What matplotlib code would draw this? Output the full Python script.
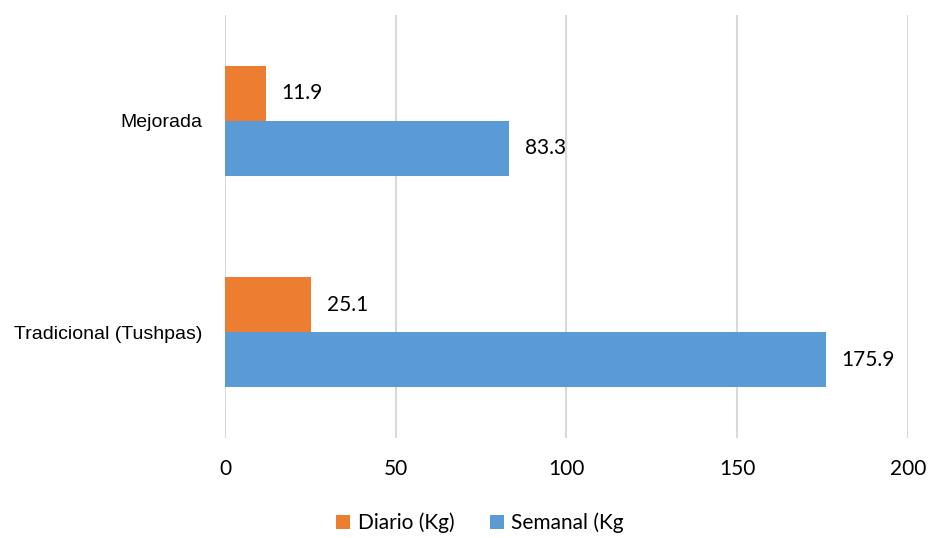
import matplotlib
matplotlib.use("Agg")
import matplotlib.pyplot as plt
import numpy as np

categories = ["Tradicional (Tushpas)", "Mejorada"]
diario = [25.1, 11.9]
semanal = [175.9, 83.3]
series_names = ["Diario (Kg)", "Semanal (Kg"]
x_ticks = [0, 50, 100, 150, 200]

orange = "#ED7D31"
blue = "#5B9BD5"
num_font = ["Lato", "DejaVu Sans"]
cat_font = ["Liberation Sans Narrow", "Liberation Sans", "DejaVu Sans"]

fig = plt.figure(figsize=(9.30, 5.38), dpi=100)
ax = fig.add_axes([0.2419, 0.186, 0.7344, 0.786])

y = np.arange(len(categories))
h = 0.26
b1 = ax.barh(y + h / 2, diario, height=h, color=orange, label=series_names[0], zorder=3)
b2 = ax.barh(y - h / 2, semanal, height=h, color=blue, label=series_names[1], zorder=3)

for bars, vals in ((b1, diario), (b2, semanal)):
    for bar, v in zip(bars, vals):
        ax.annotate(f"{v:.1f}", (v, bar.get_y() + bar.get_height() / 2),
                    xytext=(11.5, 0), textcoords="offset points",
                    va="center", ha="left", fontsize=15, family=num_font, color="#000000")

ax.set_xlim(0, 200)
ax.set_ylim(-0.5, 1.5)
ax.set_xticks(x_ticks)
ax.set_xticklabels([str(t) for t in x_ticks], family=num_font, fontsize=15)
ax.set_yticks(y)
ax.set_yticklabels(categories, family=cat_font, fontsize=14)
ax.tick_params(axis="both", length=0)
ax.tick_params(axis="x", pad=15)
ax.tick_params(axis="y", pad=16)
ax.xaxis.grid(True, color="#d9d9d9", linewidth=1.5, zorder=0)
for s in ax.spines.values():
    s.set_visible(False)

leg = fig.legend(handles=[b1, b2], loc="center", bbox_to_anchor=(0.516, 0.028),
                 ncol=2, frameon=False, prop={"family": num_font, "size": 15},
                 handlelength=0.7, handleheight=0.7, handletextpad=0.35, columnspacing=1.7)

fig.savefig("out.png", dpi=100)
